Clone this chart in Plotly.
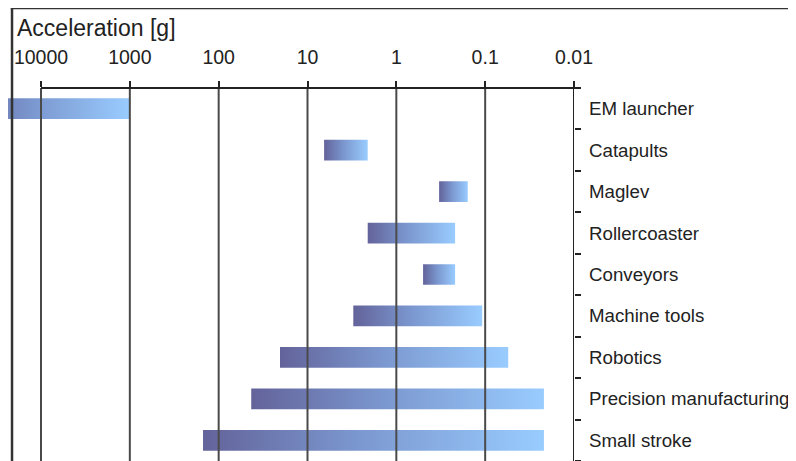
import plotly.graph_objects as go

# Acceleration ranges per application (g)
categories = ['EM launcher', 'Catapults', 'Maglev', 'Rollercoaster', 'Conveyors',
              'Machine tools', 'Robotics', 'Precision manufacturing', 'Small stroke']
acc_high = [100000, 6.5, 0.33, 2.1, 0.5, 3.05, 20.4, 43, 150]
acc_low = [1000, 2.1, 0.157, 0.218, 0.218, 0.108, 0.055, 0.0218, 0.0218]

tick_vals = [10000, 1000, 100, 10, 1, 0.1, 0.01]
tick_text = ['10000', '1000', '100', '10', '1', '0.1', '0.01']

FONT = 'Liberation Sans, Arial, sans-serif'
bar_scale = [[0, '#63639a'], [0.45, '#7b97cf'], [1, '#99ccff']]

fig = go.Figure()

# gradient-filled bars drawn as closed polygons
for i, (name, hi, lo) in enumerate(zip(categories, acc_high, acc_low)):
    fig.add_trace(go.Scatter(
        x=[hi, lo, lo, hi, hi],
        y=[i - 0.25, i - 0.25, i + 0.25, i + 0.25, i - 0.25],
        mode='lines',
        fill='toself',
        fillgradient=dict(type='horizontal', colorscale=bar_scale, start=hi, stop=lo),
        line=dict(width=0),
        name=name,
        hoverinfo='skip',
        showlegend=False,
    ))

shapes = []
# vertical grid lines drawn above the bars
for v in tick_vals[:-1]:
    shapes.append(dict(type='line', xref='x', yref='paper',
                       x0=v, x1=v, y0=0, y1=1,
                       line=dict(color='#4a4a4a', width=2), layer='above'))
# right axis line
shapes.append(dict(type='line', xref='x', yref='paper',
                   x0=0.01, x1=0.01, y0=-0.03, y1=1,
                   line=dict(color='#222', width=2), layer='above'))
# top axis line (from the 10000 tick to just past 0.01)
shapes.append(dict(type='line', xref='paper', yref='paper',
                   x0=0.0583, x1=1.0053, y0=1, y1=1,
                   line=dict(color='#222', width=2), layer='above'))
# outer frame (left and top)
shapes.append(dict(type='line', xref='paper', yref='paper',
                   x0=0.0071, x1=0.0071, y0=-0.05, y1=1.2145,
                   line=dict(color='#333', width=2.5)))
shapes.append(dict(type='line', xref='paper', yref='paper',
                   x0=0.005, x1=1.45, y0=1.2145, y1=1.2145,
                   line=dict(color='#333', width=2.5)))

fig.update_layout(
    width=796, height=461,
    margin=dict(l=0, r=230, t=80, b=8),
    paper_bgcolor='white', plot_bgcolor='white',
    font=dict(family=FONT, color='#222'),
    shapes=shapes,
    xaxis=dict(
        type='log', side='top',
        range=[4.3715, -2],
        tickmode='array', tickvals=tick_vals, ticktext=tick_text,
        ticks='outside', ticklen=6, tickwidth=2, tickcolor='#222',
        ticklabelstandoff=9,
        tickfont=dict(size=19.5, color='#222'),
        showgrid=False, showline=False, zeroline=False,
    ),
    yaxis=dict(
        side='right',
        range=[8.5, -0.5],
        tickmode='array', tickvals=list(range(len(categories))), ticktext=categories,
        ticks='', ticklabelstandoff=14,
        tickfont=dict(size=18.7, color='#222'),
        minor=dict(tickmode='array', tickvals=[k + 0.5 for k in range(-1, len(categories))],
                   ticks='outside', ticklen=6, tickwidth=2, tickcolor='#222', showgrid=False),
        showgrid=False, showline=False, zeroline=False,
    ),
    annotations=[dict(
        text='Acceleration [g]', xref='paper', yref='paper',
        x=0.0124, y=1.161, xanchor='left', yanchor='middle',
        showarrow=False, font=dict(size=23, color='#222', family=FONT),
    )],
)

fig.write_html('out.html')
